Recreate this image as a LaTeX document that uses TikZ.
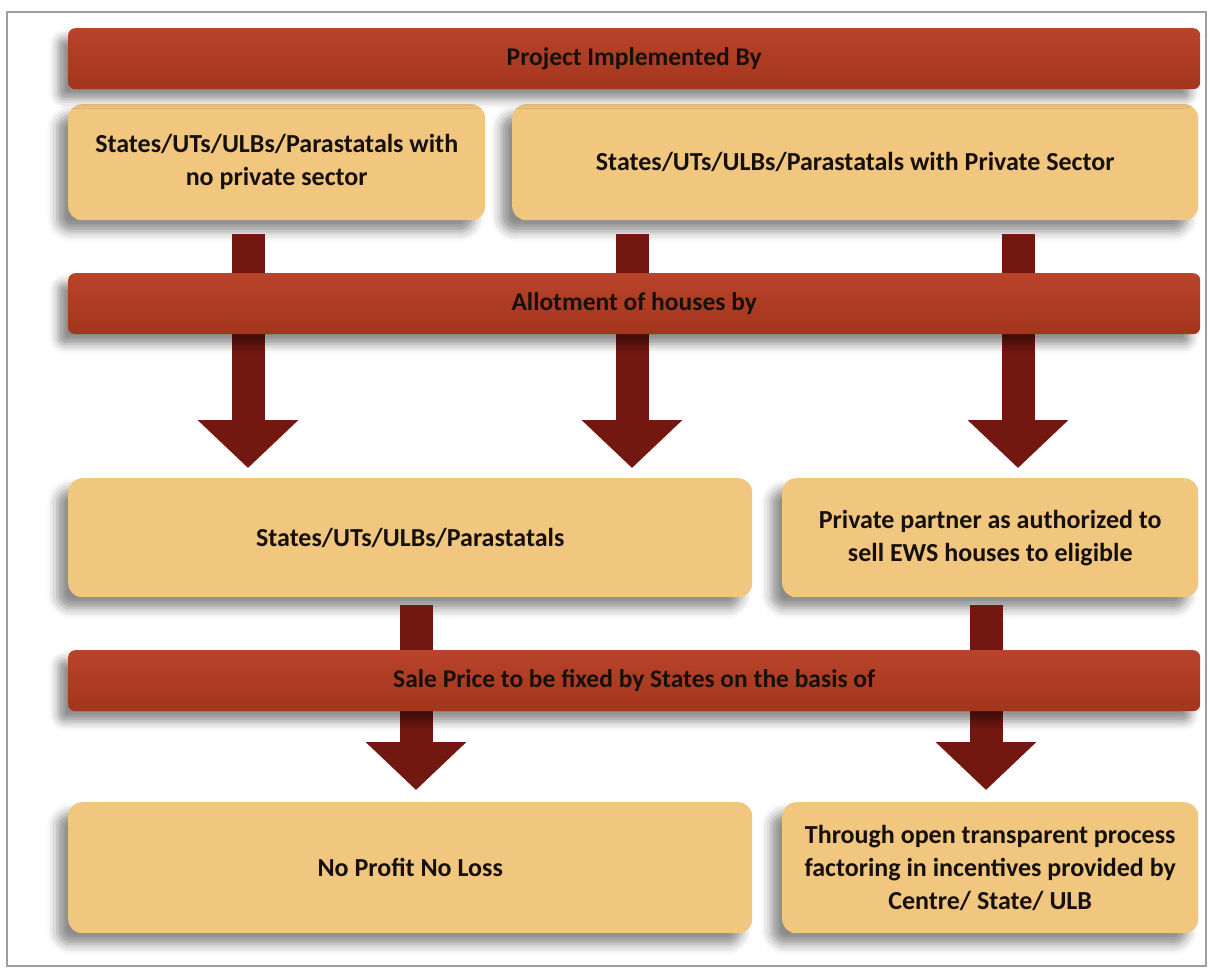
\documentclass[tikz,border=0pt]{standalone}
\usepackage{fontspec}
\setmainfont{Carlito}
\usetikzlibrary{arrows.meta,shadows.blur}

\definecolor{barred}{HTML}{A3351C}
\definecolor{bartop}{HTML}{B8442A}
\definecolor{boxtan}{HTML}{F1C67E}
\definecolor{arrowred}{HTML}{731811}
\definecolor{inktext}{HTML}{15100C}

\newcommand{\barw}{1132pt}
\newcommand{\barh}{61pt}
\newcommand{\leftw}{417pt}
\newcommand{\wide}{684pt}
\newcommand{\narrow}{416pt}

\tikzset{
  barstrip/.style={rectangle, rounded corners=7pt, anchor=north west,
    top color=bartop, bottom color=barred, minimum width=\barw, minimum height=\barh,
    text=inktext, font=\fontsize{25.5}{28}\selectfont\bfseries,
    blur shadow={shadow xshift=-10pt, shadow yshift=-10pt, shadow blur radius=9pt, shadow opacity=45}},
  tanbox/.style={rectangle, rounded corners=14pt, anchor=north west, fill=boxtan,
    align=center, text=inktext, font=\fontsize{26}{33}\selectfont\bfseries,
    blur shadow={shadow xshift=-11pt, shadow yshift=-11pt, shadow blur radius=10pt, shadow opacity=45}},
  downarrow/.style={draw=arrowred, line width=33pt, -{Triangle[width=98pt,length=48pt]}}
}

\begin{document}
\begin{tikzpicture}[x=1pt, y=-1pt]
    \useasboundingbox (0,0) rectangle (1210,969);
    \draw[gray!75, line width=1.2pt] (7,12) rectangle (1206,966);

    % boxes
    \node[tanbox, minimum width=\leftw, minimum height=116pt] (noprivate) at (68,104) {States/UTs/ULBs/Parastatals with\\no private sector};
    \node[tanbox, minimum width=686pt, minimum height=116pt] (withprivate) at (512,104) {States/UTs/ULBs/Parastatals with Private Sector};
    \node[tanbox, minimum width=\wide, minimum height=119pt] (states) at (68,478) {States/UTs/ULBs/Parastatals};
    \node[tanbox, minimum width=\narrow, minimum height=119pt] (partner) at (782,478) {Private partner as authorized to\\sell EWS houses to eligible};
    \node[tanbox, minimum width=\wide, minimum height=131pt] (noprofit) at (68,802) {No Profit No Loss};
    \node[tanbox, minimum width=\narrow, minimum height=131pt] (openproc) at (782,802) {Through open transparent process\\factoring in incentives provided by\\Centre/ State/ ULB};

    % arrow columns
    \coordinate (colA) at (248,0);
    \coordinate (colB) at (632,0);
    \coordinate (colC) at (1018,0);
    \coordinate (colD) at (416,0);
    \coordinate (colE) at (986,0);

    \draw[downarrow, shorten <=14pt, shorten >=10pt] (noprivate.south -| colA) -- (states.north -| colA);
    \draw[downarrow, shorten <=14pt, shorten >=10pt] (withprivate.south -| colB) -- (states.north -| colB);
    \draw[downarrow, shorten <=14pt, shorten >=10pt] (withprivate.south -| colC) -- (partner.north -| colC);
    \draw[downarrow, shorten <=8pt, shorten >=12pt] (states.south -| colD) -- (noprofit.north -| colD);
    \draw[downarrow, shorten <=8pt, shorten >=12pt] (partner.south -| colE) -- (openproc.north -| colE);

    % bars on top
    \node[barstrip] (implemented) at (68,28) {Project Implemented By};
    \node[barstrip] (allotment) at (68,273) {Allotment of houses by};
    \node[barstrip] (saleprice) at (68,650) {Sale Price to be fixed by States on the basis of};
\end{tikzpicture}
\end{document}
